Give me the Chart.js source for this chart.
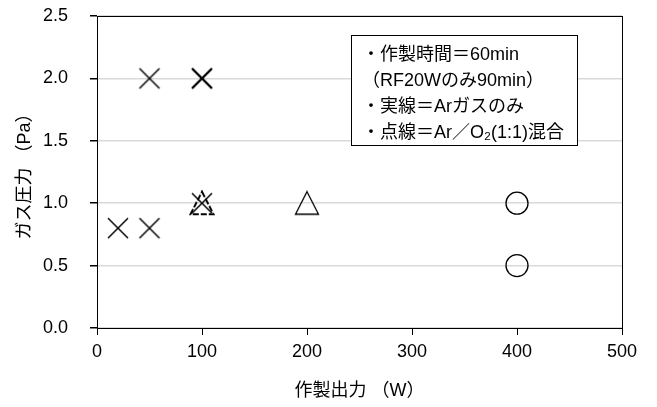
<!DOCTYPE html>
<html>
<head>
<meta charset="utf-8">
<script src="https://cdn.jsdelivr.net/npm/chart.js@4/dist/chart.umd.min.js"></script>
<style>
  html, body { margin: 0; padding: 0; background: #fff; }
  #wrap { width: 657px; height: 407px; }
</style>
</head>
<body>
<div id="wrap"><canvas id="chart" width="657" height="407"></canvas></div>
<script>
// --- data ---
const arCrossX = [20, 50, 50, 100];
const arCrossY = [0.8, 0.8, 2.0, 1.0];
const mixCrossX = [100];
const mixCrossY = [2.0];
const arTriX = [200];
const arTriY = [1.0];
const mixTriX = [100];
const mixTriY = [1.0];
const circleX = [400, 400];
const circleY = [1.0, 0.5];
const xTicks = [0, 100, 200, 300, 400, 500];
const yTicks = [0, 0.5, 1.0, 1.5, 2.0, 2.5];
const noteLines = ['・作製時間＝60min', '（RF20Wのみ90min）', '・実線＝Arガスのみ', '・点線＝Ar／O₂(1:1)混合'];

const FONT = '"Liberation Sans", "Noto Sans CJK JP", sans-serif';

function pts(xs, ys) {
  return xs.map((x, i) => ({x: x, y: ys[i]}));
}

// marker images (so the triangle sits centred and dashed ones can be drawn)
function triangleImg(dashed) {
  const c = document.createElement('canvas');
  c.width = 28; c.height = 26;
  const g = c.getContext('2d');
  g.strokeStyle = '#000';
  g.lineWidth = dashed ? 2 : 1.3;
  if (dashed) g.setLineDash([6, 2]);
  g.beginPath();
  g.moveTo(14, 1.5);
  g.lineTo(25.5, 24);
  g.lineTo(2.5, 24);
  g.closePath();
  g.stroke();
  return c;
}

function crossImg(width) {
  const c = document.createElement('canvas');
  c.width = 24; c.height = 24;
  const g = c.getContext('2d');
  g.strokeStyle = '#000';
  g.lineWidth = width;
  g.beginPath();
  g.moveTo(2, 2); g.lineTo(22, 22);
  g.moveTo(22, 2); g.lineTo(2, 22);
  g.stroke();
  return c;
}

const frameAndNote = {
  id: 'frameAndNote',
  afterDraw(chart) {
    const ctx = chart.ctx;
    const a = chart.chartArea;
    ctx.save();
    ctx.strokeStyle = '#000';
    ctx.lineWidth = 1;
    ctx.strokeRect(Math.round(a.left) + 0.5, Math.round(a.top) + 0.5,
      Math.round(a.right - a.left), Math.round(a.bottom - a.top));

    // note box
    ctx.font = '18px ' + FONT;
    const bx = 351, by = 35, lh = 26;
    let w = 0;
    noteLines.forEach(t => { w = Math.max(w, ctx.measureText(t).width); });
    const bw = Math.round(w + 24), bh = 110;
    ctx.fillStyle = '#fff';
    ctx.fillRect(bx, by, bw, bh);
    ctx.strokeRect(bx + 0.5, by + 0.5, bw, bh);
    ctx.fillStyle = '#000';
    ctx.textBaseline = 'middle';
    noteLines.forEach((t, i) => {
      ctx.fillText(t, bx + 11, by + 20 + i * lh);
    });
    ctx.restore();
  }
};

new Chart(document.getElementById('chart'), {
  type: 'scatter',
  data: {
    datasets: [
      { label: 'Ar x', data: pts(arCrossX, arCrossY), pointStyle: crossImg(1.5) },
      { label: 'mix x', data: pts(mixCrossX, mixCrossY), pointStyle: crossImg(2.4) },
      { label: 'Ar tri', data: pts(arTriX, arTriY), pointStyle: triangleImg(false) },
      { label: 'mix tri', data: pts(mixTriX, mixTriY), pointStyle: triangleImg(true) },
      { label: 'circle', data: pts(circleX, circleY), pointStyle: 'circle', pointRadius: 11,
        borderColor: '#000', backgroundColor: 'rgba(0,0,0,0)', borderWidth: 1.3 }
    ]
  },
  options: {
    responsive: false,
    animation: false,
    layout: { padding: { left: 14, right: 35, top: 16, bottom: 0 } },
    plugins: { legend: { display: false }, tooltip: { enabled: false } },
    scales: {
      x: {
        type: 'linear', min: 0, max: 500,
        afterBuildTicks: s => { s.ticks = xTicks.map(v => ({value: v})); },
        afterFit: s => { s.height = 79; },
        grid: { drawOnChartArea: false, tickLength: 7, tickColor: '#000' },
        border: { color: '#000' },
        ticks: { color: '#000', font: { size: 18, family: FONT }, padding: 6 },
        title: { display: true, text: '作製出力 （W）', color: '#000',
          font: { size: 18, family: FONT }, padding: { top: 0, bottom: 5 } }
      },
      y: {
        type: 'linear', min: 0, max: 2.5,
        afterBuildTicks: s => { s.ticks = yTicks.map(v => ({value: v})); },
        afterFit: s => { s.width = 83; s.paddingTop = 11; s.paddingBottom = 11; },
        grid: { color: '#d9d9d9', lineWidth: 1.5, tickLength: 7, tickColor: '#000' },
        border: { color: '#000' },
        ticks: { color: '#000', font: { size: 18, family: FONT }, padding: 22,
          callback: v => v.toFixed(1) },
        title: { display: true, text: 'ガス圧力 （Pa）', color: '#000',
          font: { size: 18, family: FONT }, padding: { top: 0, bottom: 0 } }
      }
    }
  },
  plugins: [frameAndNote]
});
</script>
</body>
</html>
